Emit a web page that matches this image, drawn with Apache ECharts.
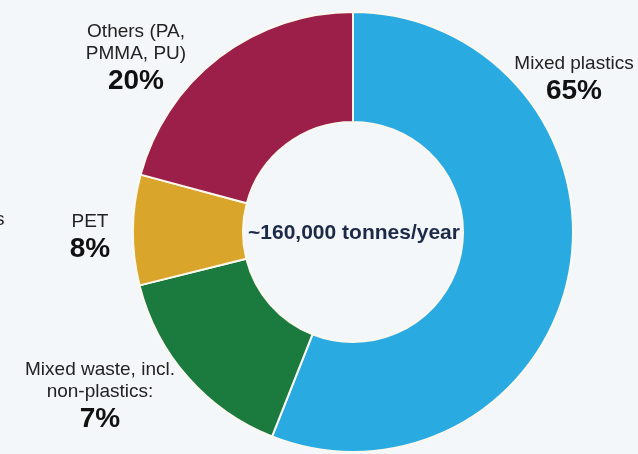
<!DOCTYPE html>
<html><head><meta charset="utf-8">
<script src="https://cdn.jsdelivr.net/npm/echarts@6/dist/echarts.min.js"></script>
<style>html,body{margin:0;padding:0;background:#f4f7fa;}#c{width:638px;height:454px;}</style>
</head><body><div id="c"></div>
<script>
// Categories in clockwise order from 12 o'clock
const categories = ["Mixed plastics", "Mixed waste, incl. non-plastics:", "PET", "Others (PA, PMMA, PU)"];
// Slice sizes as drawn in the picture (angular share)
const sliceValues = [56.0, 15.1, 8.1, 20.8];
// Percent labels as printed
const percentLabels = ["65%", "7%", "8%", "20%"];
const centerText = "~160,000 tonnes/year";
const colors = ["#29abe2", "#1b7a3e", "#d9a52a", "#9b1f48"];

const chart = echarts.init(document.getElementById('c'));
const font = '"Liberation Sans", Arial, sans-serif';
function lbl(lines, pct, x, y) {
  return {
    type: 'text', x: x, y: y,
    style: {
      text: lines.map(l => '{n|' + l + '}').join('\n') + '\n{b|' + pct + '}',
      align: 'center', verticalAlign: 'top',
      rich: {
        n: {fontFamily: font, fontSize: 19, lineHeight: 22, fill: '#222', align: 'center'},
        b: {fontFamily: font, fontSize: 28, fontWeight: 'bold', lineHeight: 32, fill: '#111', align: 'center'}
      }
    }
  };
}
chart.setOption({
  backgroundColor: '#f4f7fa',
  animation: false,
  series: [{
    type: 'pie',
    center: [353, 232],
    radius: [110, 220],
    startAngle: 90,
    clockwise: true,
    label: {show: false},
    labelLine: {show: false},
    itemStyle: {borderColor: '#fbf8ef', borderWidth: 2},
    data: categories.map((c, i) => ({name: c, value: sliceValues[i], itemStyle: {color: colors[i]}}))
  }],
  graphic: [
    {type: 'text', x: 354, y: 233, style: {text: centerText, align: 'center', verticalAlign: 'middle',
      fontFamily: font, fontSize: 21, fontWeight: 'bold', fill: '#1c2a48'}},
    lbl(["Mixed plastics"], percentLabels[0], 574, 53),
    lbl(["Mixed waste, incl.", "non-plastics:"], percentLabels[1], 100, 359),
    lbl(["PET"], percentLabels[2], 90, 211),
    lbl(["Others (PA,", "PMMA, PU)"], percentLabels[3], 136, 21),
    {type: 'text', x: -5, y: 210, style: {text: 's', fontFamily: font, fontSize: 19, fill: '#222'}}
  ]
});
</script></body></html>
